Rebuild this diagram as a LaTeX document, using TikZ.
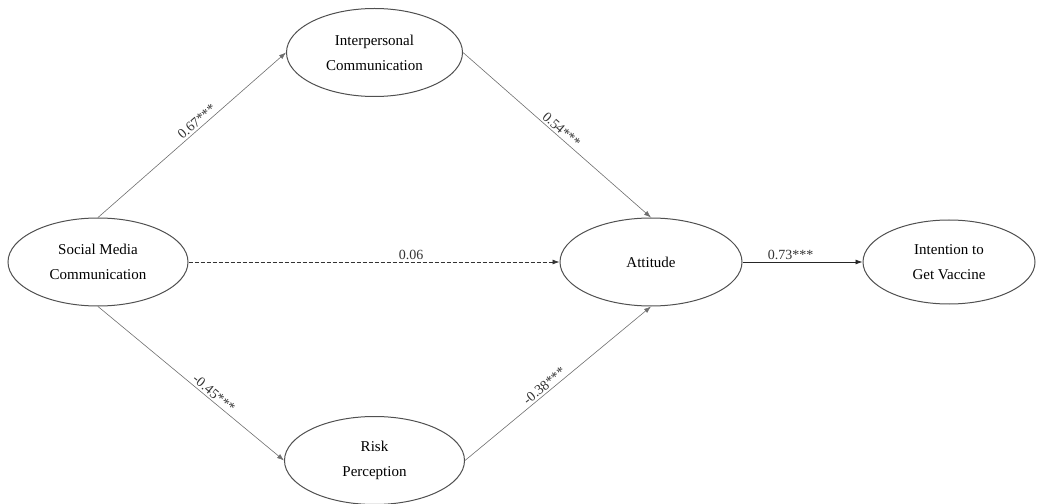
\documentclass[tikz,border=0pt]{standalone}
\usepackage{fontspec}
\setmainfont{Liberation Serif}
\usepackage{xcolor}
\definecolor{edgegray}{RGB}{80,80,80}
\definecolor{pathgray}{RGB}{110,110,110}
\usepackage{tikz}
\usetikzlibrary{shapes.geometric, arrows.meta, positioning, calc}
\tikzset{
  latent/.style={
    ellipse, draw=edgegray, line width=1pt, fill=white,
    minimum width=180pt, minimum height=88pt, inner sep=0pt,
    align=center, font=\fontsize{15}{25}\selectfont},
  coef/.style={font=\fontsize{14}{16}\selectfont, inner sep=2pt, text=black!80},
  path/.style={-{Latex[length=7pt,width=5pt]}, line width=0.6pt, pathgray},
  pathmain/.style={-{Latex[length=7pt,width=5pt]}, line width=0.8pt, black!85},
  pathdash/.style={-{Latex[length=7pt,width=5pt]}, line width=0.8pt, black!80,
    dash pattern=on 4pt off 2pt},
}
\begin{document}
\begin{tikzpicture}[node distance=120pt]
  \useasboundingbox (-98pt,-241pt) rectangle (940pt,262pt);
  \node[latent] (smc) at (0,0) {Social Media\\Communication};
  \node[latent, right=371pt of smc, minimum width=182pt] (att) {Attitude};
  \node[latent, right=120pt of att, minimum width=172pt, minimum height=84pt] (intent)
    {Intention to\\Get Vaccine};
  \coordinate (mid) at ($(smc)!0.5!(att)$);
  \node[latent, above=165pt of mid, minimum width=176pt] (inter)
    {Interpersonal\\Communication};
  \node[latent, below=154pt of mid] (risk) {Risk\\Perception};
  \draw[path] (smc.north) -- node[coef, sloped, above, pos=0.55]{0.67***} (inter.west);
  \draw[path] (inter.east) -- node[coef, sloped, above, pos=0.5]{0.54***} (att.north);
  \draw[pathdash] (smc.east) -- node[coef, above, pos=0.6]{0.06} (att.west);
  \draw[path] (smc.south) -- node[coef, sloped, above, pos=0.6]{-0.45***} (risk.west);
  \draw[path] (risk.east) -- node[coef, sloped, above, pos=0.45]{-0.38***} (att.south);
  \draw[pathmain] (att.east) -- node[coef, above, pos=0.4]{0.73***} (intent.west);
\end{tikzpicture}
\end{document}
